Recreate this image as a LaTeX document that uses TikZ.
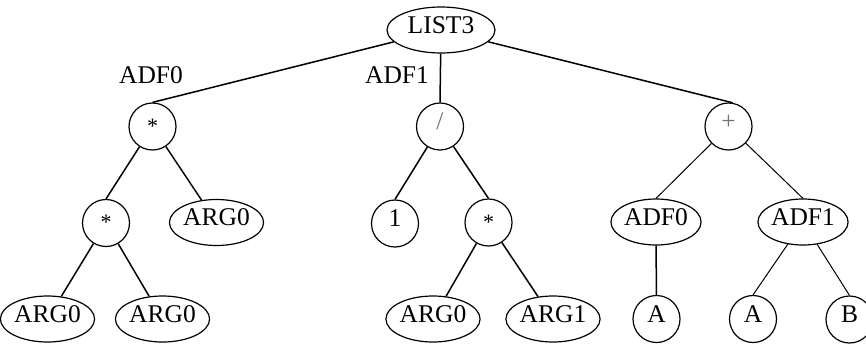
\documentclass[tikz,border=0pt]{standalone}
\usepackage{fontspec}
\setmainfont{Liberation Serif}
\usetikzlibrary{shapes.geometric}
\tikzset{
  lbl/.style={font=\fontsize{25.5}{30}\selectfont, text height=0.66em, text depth=0pt, inner sep=0pt},
  oval/.style={lbl, draw, line width=1.2pt, ellipse, minimum width=80pt, minimum height=46pt},
  rnd/.style={lbl, draw, line width=1.2pt, circle, minimum size=47pt},
  edge/.style={line width=1.5pt},
  thinedge/.style={line width=1.0pt}
}
\newcommand{\opstar}{\raisebox{-0.14em}{\fontsize{22}{26}\selectfont *}}
\begin{document}
\begin{tikzpicture}[x=1pt,y=-1pt]
  \useasboundingbox (0,0) rectangle (866,345);
  \clip (0,0) rectangle (866,345);

  % root
  \node[oval, minimum width=108pt] (list) at (441,30) {LIST3};

  % branch labels
  \node[lbl] (adflabA) at (151,80.5) {ADF0};
  \node[lbl] (adflabB) at (397,80.5) {ADF1};

  % first level
  \node[rnd] (mulA) at (152.5,126.5) {\opstar};
  \node[rnd] (divi) at (440,126.5) {\textcolor{black!55}{/}};
  \node[rnd] (plus) at (728.5,126.5) {\textcolor{black!55}{+}};

  % second level
  \node[rnd] (mulB) at (106,223) {\opstar};
  \node[oval, minimum width=81pt] (argA) at (216.5,222.5) {ARG0};
  \node[rnd] (one) at (395,223.5) {1};
  \node[rnd] (mulC) at (488.5,222.5) {\opstar};
  \node[oval] (adfA) at (656,222) {ADF0};
  \node[oval] (adfB) at (803,222) {ADF1};

  % third level
  \node[oval, minimum width=79pt] (argB) at (47.5,319) {ARG0};
  \node[oval, minimum width=81pt] (argC) at (162.5,319) {ARG0};
  \node[oval] (argD) at (433,319) {ARG0};
  \node[oval] (argE) at (553,319) {ARG1};
  \node[rnd] (leafA) at (656.5,319) {A};
  \node[rnd] (leafB) at (753,319) {A};
  \node[rnd] (leafC) at (849.5,319.5) {B};

  % connectors
  \draw[edge] (list) -- (mulA.north);
  \draw[edge] (list) -- (divi.north);
  \draw[edge] (list) -- (plus.80);

  \draw[edge] (mulA) -- (mulB.north);
  \draw[edge] (mulA) -- (argA);
  \draw[edge] (mulB) -- (argB);
  \draw[edge] (mulB) -- (argC);

  \draw[edge] (divi) -- (one.north);
  \draw[edge] (divi) -- (mulC.north);
  \draw[edge] (mulC) -- (argD);
  \draw[edge] (mulC) -- (argE);

  \draw[thinedge] (plus) -- (adfA.north);
  \draw[thinedge] (plus) -- (adfB.north);
  \draw[edge] (adfA) -- (leafA);
  \draw[thinedge] (adfB) -- (leafB.north);
  \draw[thinedge] (adfB) -- (leafC.north);
\end{tikzpicture}
\end{document}
